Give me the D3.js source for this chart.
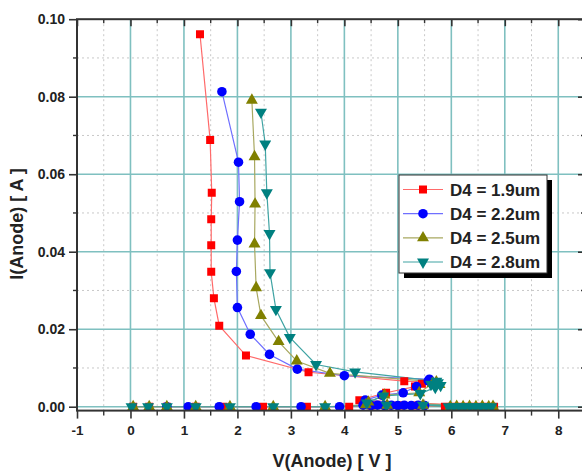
<!DOCTYPE html>
<html>
<head>
<meta charset="utf-8">
<script src="https://cdn.jsdelivr.net/npm/d3@7"></script>
<style>
html,body{margin:0;padding:0;background:#fff;}
svg{display:block;}
text{font-family:"Liberation Sans",Arial,sans-serif;font-weight:bold;fill:#222;}
</style>
</head>
<body>
<svg id="chart" width="582" height="473"></svg>
<script>
// ---------- data ----------
const xTicks = [-1,0,1,2,3,4,5,6,7,8];
const yTicks = [0.00,0.02,0.04,0.06,0.08,0.10];
const xMinor = [-0.5,0.5,1.5,2.5,3.5,4.5,5.5,6.5,7.5,8.5];
const yMinor = [0.01,0.03,0.05,0.07,0.09];

const seriesNames = ["D4 = 1.9um","D4 = 2.2um","D4 = 2.5um","D4 = 2.8um"];

const vRed = [0.05,0.35,0.68,1.22,1.74,2.48,3.30,4.09,4.50,4.80,5.05,5.35,5.88,6.05,6.20,6.35,6.50,6.65,6.80,
  4.28,4.78,5.32,5.45,5.62,5.12,3.33,2.16,1.66,1.56,1.51,1.51,1.51,1.52,1.49,1.30];
const iRed = [0,0,0,0,0,0,0,0,0.0003,0.0003,0.0003,0.0003,0,0,0,0,0,0,0,
  0.0017,0.0036,0.0052,0.0059,0.0063,0.0066,0.0089,0.0132,0.0209,0.0280,0.0348,0.0417,0.0484,0.0552,0.0688,0.0961];

const vBlue = [0.68,1.08,1.66,2.35,3.19,3.91,4.35,4.50,4.62,4.75,4.88,5.00,5.12,5.25,5.38,5.50,
  4.39,4.70,5.10,5.35,5.57,5.59,4.00,3.12,2.60,2.24,2.00,1.98,2.00,2.04,2.02,1.71];
const iBlue = [0,0,0,0,0,0,0.0004,0.0003,0.0004,0.0003,0.0004,0.0003,0.0004,0.0003,0.0004,0.0003,
  0.0017,0.0030,0.0036,0.0052,0.0067,0.0071,0.0080,0.0097,0.0135,0.0187,0.0256,0.0349,0.0430,0.0529,0.0631,0.0813];

const vOlive = [0.05,0.35,0.68,1.22,1.86,2.67,3.64,4.40,4.80,5.47,5.98,6.10,6.22,6.34,6.46,6.58,6.70,6.78,
  4.45,4.75,5.40,5.65,5.78,5.72,3.73,3.11,2.77,2.44,2.35,2.32,2.33,2.32,2.27];
const iOlive = [0,0,0,0,0,0,0,0.0005,0.0004,0.0004,0,0.0001,0,0.0001,0,0.0001,0,0.0001,
  0.0012,0.0030,0.0036,0.0060,0.0057,0.0064,0.0086,0.0118,0.0168,0.0235,0.0307,0.0420,0.0523,0.0645,0.0791];

const vTeal = [0.02,0.33,0.68,1.22,1.86,2.67,3.64,4.79,5.47,5.95,6.05,6.15,6.25,6.35,6.45,6.55,6.65,6.75,
  4.42,4.73,5.42,5.70,5.80,5.62,5.75,5.72,4.20,3.47,2.98,2.72,2.61,2.60,2.55,2.52,2.44];
const iTeal = [0,0,0,0,0,0,0,0.0004,0.0004,0,0,0,0,0,0,0,0,0,
  0.0010,0.0028,0.0034,0.0050,0.0055,0.0058,0.0062,0.0066,0.0090,0.0109,0.0179,0.0251,0.0346,0.0447,0.0552,0.0678,0.0760];

// ---------- setup ----------
const svg = d3.select("#chart");
const x = d3.scaleLinear().domain([-1, 8.5]).range([77, 585]);
const y = d3.scaleLinear().domain([-0.001, 0.10]).range([410.6, 19.2]);
const x0 = x.range()[0], x1 = x.range()[1], yTop = y.range()[1], yBot = y.range()[0];

const series = [
  {name: seriesNames[0], v: vRed,  i: iRed,  marker: d3.symbolSquare,   size: 64,  fill: "#ff0000", line: "#ff6a6a"},
  {name: seriesNames[1], v: vBlue, i: iBlue, marker: d3.symbolCircle,   size: 72,  fill: "#0000ff", line: "#6f6fff"},
  {name: seriesNames[2], v: vOlive,i: iOlive,marker: d3.symbolTriangle, size: 62,  fill: "#808000", line: "#a8a860", rot: 0},
  {name: seriesNames[3], v: vTeal, i: iTeal, marker: d3.symbolTriangle, size: 62,  fill: "#008080", line: "#40a4a4", rot: 180}
];

svg.append("rect").attr("width",582).attr("height",473).attr("fill","#fff");

svg.append("clipPath").attr("id","plotclip").append("rect")
  .attr("x",x0).attr("y",yTop).attr("width",x1-x0).attr("height",yBot-yTop);

const grid = svg.append("g");
grid.selectAll(".mvx").data(xMinor.filter(d=>d>-1 && d<8.5)).join("line")
  .attr("x1",d=>x(d)).attr("x2",d=>x(d)).attr("y1",yTop).attr("y2",yBot)
  .attr("stroke","#c8c8c8").attr("stroke-width",1).attr("stroke-dasharray","2,3");
grid.selectAll(".mhy").data(yMinor).join("line")
  .attr("x1",x0).attr("x2",x1).attr("y1",d=>y(d)).attr("y2",d=>y(d))
  .attr("stroke","#c8c8c8").attr("stroke-width",1).attr("stroke-dasharray","2,3");
grid.selectAll(".gvx").data(xTicks.filter(d=>d>-1)).join("line")
  .attr("x1",d=>x(d)).attr("x2",d=>x(d)).attr("y1",yTop).attr("y2",yBot)
  .attr("stroke","#7fc0c0").attr("stroke-width",1.6);
grid.selectAll(".ghy").data(yTicks.filter(d=>d<0.10)).join("line")
  .attr("x1",x0).attr("x2",x1).attr("y1",d=>y(d)).attr("y2",d=>y(d))
  .attr("stroke","#7fc0c0").attr("stroke-width",1.6);

const plot = svg.append("g").attr("clip-path","url(#plotclip)");
const lineGen = d3.line().x(d=>x(d[0])).y(d=>y(d[1]));
series.forEach(s => {
  const pts = s.v.map((v,k)=>[v, s.i[k]]);
  plot.append("path").datum(pts).attr("d",lineGen)
    .attr("fill","none").attr("stroke",s.line).attr("stroke-width",1.2);
});
series.forEach(s => {
  const pts = s.v.map((v,k)=>[v, s.i[k]]);
  const sym = d3.symbol().type(s.marker).size(s.size);
  plot.selectAll(null).data(pts).join("path")
    .attr("d",sym)
    .attr("transform",d=>`translate(${x(d[0])},${y(d[1])})` + (s.rot ? ` rotate(${s.rot})` : ""))
    .attr("fill",s.fill);
});

const axCol = "#333";
const axB = svg.append("g").attr("transform",`translate(0,${yBot})`)
  .call(d3.axisBottom(x).tickValues(xTicks).tickSize(8).tickPadding(7).tickFormat(d => String(d)));
const axL = svg.append("g").attr("transform",`translate(${x0},0)`)
  .call(d3.axisLeft(y).tickValues(yTicks).tickSize(8).tickPadding(4).tickFormat(d3.format(".2f")));
const axT = svg.append("g").attr("transform",`translate(0,${yTop})`)
  .call(d3.axisTop(x).tickValues(xTicks).tickSize(-7).tickFormat(""));
const axR = svg.append("g").attr("transform",`translate(${x1},0)`)
  .call(d3.axisRight(y).tickValues(yTicks).tickSize(-7).tickFormat(""));
[axB,axL,axT,axR].forEach(a=>{
  a.select(".domain").remove();
  a.selectAll(".tick line").attr("stroke",axCol).attr("stroke-width",1.6);
});
axB.selectAll(".tick text").style("font-size","13.5px").attr("fill","#222");
axL.selectAll(".tick text").style("font-size","14px").attr("fill","#222");

svg.append("g").selectAll("line").data(xMinor.filter(d=>d<8.5)).join("line")
  .attr("x1",d=>x(d)).attr("x2",d=>x(d)).attr("y1",yBot).attr("y2",yBot+5)
  .attr("stroke",axCol).attr("stroke-width",1.4);
svg.append("g").selectAll("line").data(xMinor.filter(d=>d<8.5)).join("line")
  .attr("x1",d=>x(d)).attr("x2",d=>x(d)).attr("y1",yTop).attr("y2",yTop+4)
  .attr("stroke",axCol).attr("stroke-width",1.4);
svg.append("g").selectAll("line").data(yMinor).join("line")
  .attr("x1",x0-4).attr("x2",x0).attr("y1",d=>y(d)).attr("y2",d=>y(d))
  .attr("stroke",axCol).attr("stroke-width",1.4);
svg.append("g").selectAll("line").data(yMinor).join("line")
  .attr("x1",x1-4).attr("x2",x1).attr("y1",d=>y(d)).attr("y2",d=>y(d))
  .attr("stroke",axCol).attr("stroke-width",1.4);

svg.append("rect").attr("x",x0).attr("y",yTop).attr("width",x1-x0).attr("height",yBot-yTop)
  .attr("fill","none").attr("stroke",axCol).attr("stroke-width",2);

svg.append("text").attr("x",332).attr("y",467).attr("text-anchor","middle")
  .style("font-size","18px").text("V(Anode) [ V ]");
svg.append("text").attr("transform","translate(23,224) rotate(-90)").attr("text-anchor","middle")
  .style("font-size","18px").text("I(Anode) [ A ]");

const lg = svg.append("g");
const lx = 399, ly = 175, lw = 148, lh = 98;
lg.append("rect").attr("x",lx+5).attr("y",ly+5).attr("width",lw).attr("height",lh).attr("fill","#000");
lg.append("rect").attr("x",lx).attr("y",ly).attr("width",lw).attr("height",lh)
  .attr("fill","#fff").attr("stroke","#333").attr("stroke-width",1);
const rowY = d3.scalePoint().domain(seriesNames).range([189.5, 262]);
series.forEach(s => {
  const yy = rowY(s.name);
  lg.append("line").attr("x1",lx+4).attr("x2",lx+44).attr("y1",yy).attr("y2",yy)
    .attr("stroke",s.line).attr("stroke-width",1.2);
  lg.append("path").attr("d",d3.symbol().type(s.marker).size(s.size)())
    .attr("transform",`translate(${lx+24},${yy})` + (s.rot ? ` rotate(${s.rot})` : ""))
    .attr("fill",s.fill);
  lg.append("text").attr("x",lx+51).attr("y",yy+6).style("font-size","17px").text(s.name);
});
</script>
</body>
</html>
